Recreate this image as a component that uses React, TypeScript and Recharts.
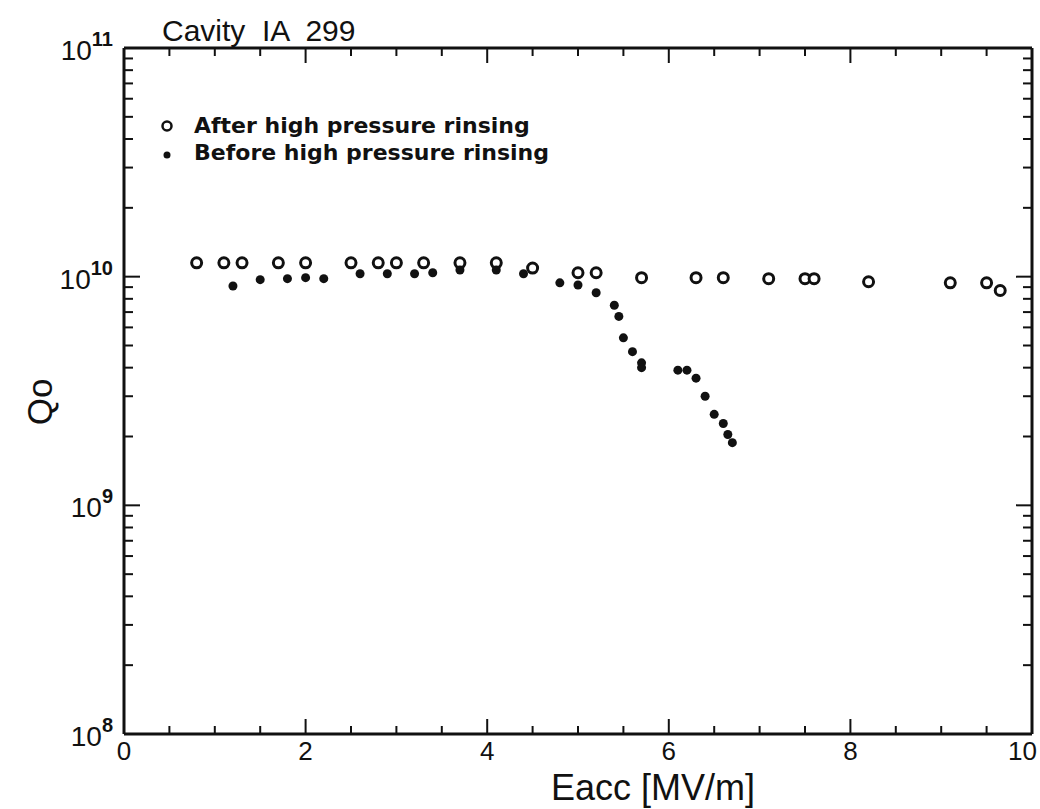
import React from "react";
import { ScatterChart, Scatter, XAxis, YAxis, Legend } from "recharts";

// Eacc [MV/m] and Qo
const afterE = [0.8, 1.1, 1.3, 1.7, 2.0, 2.5, 2.8, 3.0, 3.3, 3.7, 4.1, 4.5, 5.0, 5.2, 5.7, 6.3, 6.6, 7.1, 7.5, 7.6, 8.2, 9.1, 9.5, 9.65];
const afterQ = [1.15e10, 1.15e10, 1.15e10, 1.15e10, 1.15e10, 1.15e10, 1.15e10, 1.15e10, 1.15e10, 1.15e10, 1.15e10, 1.09e10, 1.04e10, 1.04e10, 0.99e10, 0.99e10, 0.99e10, 0.98e10, 0.98e10, 0.98e10, 0.95e10, 0.94e10, 0.94e10, 0.87e10];

const beforeE = [1.2, 1.5, 1.8, 2.0, 2.2, 2.6, 2.9, 3.2, 3.4, 3.7, 4.1, 4.4, 4.8, 5.0, 5.2, 5.4, 5.45, 5.5, 5.6, 5.7, 5.7, 6.1, 6.2, 6.3, 6.4, 6.5, 6.6, 6.65, 6.7];
const beforeQ = [0.91e10, 0.97e10, 0.98e10, 0.99e10, 0.98e10, 1.03e10, 1.03e10, 1.03e10, 1.04e10, 1.07e10, 1.07e10, 1.03e10, 0.94e10, 0.92e10, 0.85e10, 0.75e10, 0.67e10, 0.54e10, 0.47e10, 0.42e10, 0.4e10, 0.39e10, 0.39e10, 0.36e10, 0.3e10, 0.25e10, 0.228e10, 0.204e10, 0.188e10];

const seriesNames = ["After high pressure rinsing", "Before high pressure rinsing"];

const xTicks = [0, 0.5, 1, 1.5, 2, 2.5, 3, 3.5, 4, 4.5, 5, 5.5, 6, 6.5, 7, 7.5, 8, 8.5, 9, 9.5, 10];
const xLabels = [0, 2, 4, 6, 8, 10];
const decades = [8, 9, 10, 11];
const yTicks = [
  1e8, 2e8, 3e8, 4e8, 5e8, 6e8, 7e8, 8e8, 9e8,
  1e9, 2e9, 3e9, 4e9, 5e9, 6e9, 7e9, 8e9, 9e9,
  1e10, 2e10, 3e10, 4e10, 5e10, 6e10, 7e10, 8e10, 9e10,
  1e11,
];

const afterData = afterE.map((e, i) => ({ e, q: afterQ[i] }));
const beforeData = beforeE.map((e, i) => ({ e, q: beforeQ[i] }));

const FONT = "Liberation Sans";
const INK = "#111";

const isMajorY = (v: number) => decades.some((d) => Math.abs(Math.log10(v) - d) < 1e-6);

function BottomTick(props: any) {
  const { x, y, payload } = props;
  const v = payload.value;
  const major = xLabels.includes(v);
  const last = v === 10;
  return (
    <g>
      {v > 0 && v < 10 && (
        <line x1={x} x2={x} y1={y} y2={y - (major ? 15 : 8)} stroke={INK} strokeWidth={2} />
      )}
      {major && (
        <text
          x={last ? x + 5 : x}
          y={y + 26}
          textAnchor={last ? "end" : "middle"}
          fontFamily={FONT}
          fontSize={26}
          fill={INK}
        >
          {v}
        </text>
      )}
    </g>
  );
}

function TopTick(props: any) {
  const { x, y, payload } = props;
  const v = payload.value;
  if (v <= 0 || v >= 10) return <g />;
  const major = xLabels.includes(v);
  return <line x1={x} x2={x} y1={y} y2={y + (major ? 15 : 8)} stroke={INK} strokeWidth={2} />;
}

function LeftTick(props: any) {
  const { x, y, payload } = props;
  const v = payload.value;
  const major = isMajorY(v);
  const exp = Math.round(Math.log10(v));
  return (
    <g>
      {v > 1e8 && v < 1e11 && (
        <line x1={x} x2={x + (major ? 16 : 9)} y1={y} y2={y} stroke={INK} strokeWidth={2} />
      )}
      {major && (
        <text x={x - 11} y={y + 12} textAnchor="end" fontFamily={FONT} fontSize={28} fill={INK}>
          10
          <tspan dy={-14} fontSize={20} fontWeight={700}>
            {exp}
          </tspan>
        </text>
      )}
    </g>
  );
}

function RightTick(props: any) {
  const { x, y, payload } = props;
  const v = payload.value;
  if (v <= 1e8 || v >= 1e11) return <g />;
  const major = isMajorY(v);
  return <line x1={x} x2={x - (major ? 16 : 9)} y1={y} y2={y} stroke={INK} strokeWidth={2} />;
}

const OpenDot = (props: any) => (
  <circle cx={props.cx} cy={props.cy} r={5} fill="#fff" stroke={INK} strokeWidth={3} />
);
const FilledDot = (props: any) => <circle cx={props.cx} cy={props.cy} r={4.5} fill={INK} />;

function LegendBox() {
  return (
    <div style={{ fontFamily: "DejaVu Sans", fontSize: 22, fontWeight: 700, color: INK, lineHeight: "27px" }}>
      {seriesNames.map((name, i) => (
        <div key={name} style={{ display: "flex", alignItems: "center" }}>
          <svg width={26} height={27} style={{ marginRight: 12 }}>
            {i === 0 ? (
              <circle cx={11} cy={14} r={4.5} fill="#fff" stroke={INK} strokeWidth={2.5} />
            ) : (
              <circle cx={11} cy={16} r={3.5} fill={INK} />
            )}
          </svg>
          <span>{name}</span>
        </div>
      ))}
    </div>
  );
}

const axisLine = { stroke: INK, strokeWidth: 3 };

export default function App() {
  return (
    <div style={{ position: "absolute", left: 0, top: 0, width: 1040, height: 809, background: "#fff" }}>
      <ScatterChart width={1040} height={809} margin={{ top: 47, right: 7, bottom: 0, left: 0 }}>
        <XAxis
          xAxisId="bottom"
          dataKey="e"
          type="number"
          domain={[0, 10]}
          ticks={xTicks}
          interval={0}
          height={75}
          tickSize={0}
          tickMargin={0}
          tickLine={false}
          axisLine={axisLine}
          tick={<BottomTick />}
          allowDataOverflow
        />
        <XAxis
          xAxisId="top"
          orientation="top"
          dataKey="e"
          type="number"
          domain={[0, 10]}
          ticks={xTicks}
          interval={0}
          height={1}
          tickSize={0}
          tickMargin={0}
          tickLine={false}
          axisLine={axisLine}
          tick={<TopTick />}
          allowDataOverflow
        />
        <YAxis
          yAxisId="left"
          dataKey="q"
          type="number"
          scale="log"
          domain={[1e8, 1e11]}
          ticks={yTicks}
          interval={0}
          width={124}
          tickSize={0}
          tickMargin={0}
          tickLine={false}
          axisLine={axisLine}
          tick={<LeftTick />}
          allowDataOverflow
        />
        <YAxis
          yAxisId="right"
          orientation="right"
          dataKey="q"
          type="number"
          scale="log"
          domain={[1e8, 1e11]}
          ticks={yTicks}
          interval={0}
          width={1}
          tickSize={0}
          tickMargin={0}
          tickLine={false}
          axisLine={axisLine}
          tick={<RightTick />}
          allowDataOverflow
        />
        <Legend
          layout="vertical"
          align="center"
          verticalAlign="middle"
          content={() => <LegendBox />}
          wrapperStyle={{ position: "absolute", left: 156, top: 112, width: 440 }}
        />
        <Scatter
          name={seriesNames[0]}
          data={afterData}
          xAxisId="bottom"
          yAxisId="left"
          shape={OpenDot}
          isAnimationActive={false}
        />
        <Scatter
          name={seriesNames[1]}
          data={beforeData}
          xAxisId="bottom"
          yAxisId="left"
          shape={FilledDot}
          isAnimationActive={false}
        />
      </ScatterChart>
      <svg
        width={1040}
        height={809}
        style={{ position: "absolute", left: 0, top: 0, pointerEvents: "none" }}
      >
        <text x={162} y={41} fontFamily={FONT} fontSize={30} fill={INK} style={{ whiteSpace: "pre" }}>
          {"Cavity  IA  299"}
        </text>
        <text x={653} y={800} textAnchor="middle" fontFamily={FONT} fontSize={36} fill={INK}>
          Eacc [MV/m]
        </text>
        <text
          x={0}
          y={0}
          transform="translate(52 402) rotate(-90)"
          textAnchor="middle"
          fontFamily={FONT}
          fontSize={35}
          fill={INK}
        >
          Qo
        </text>
      </svg>
    </div>
  );
}
